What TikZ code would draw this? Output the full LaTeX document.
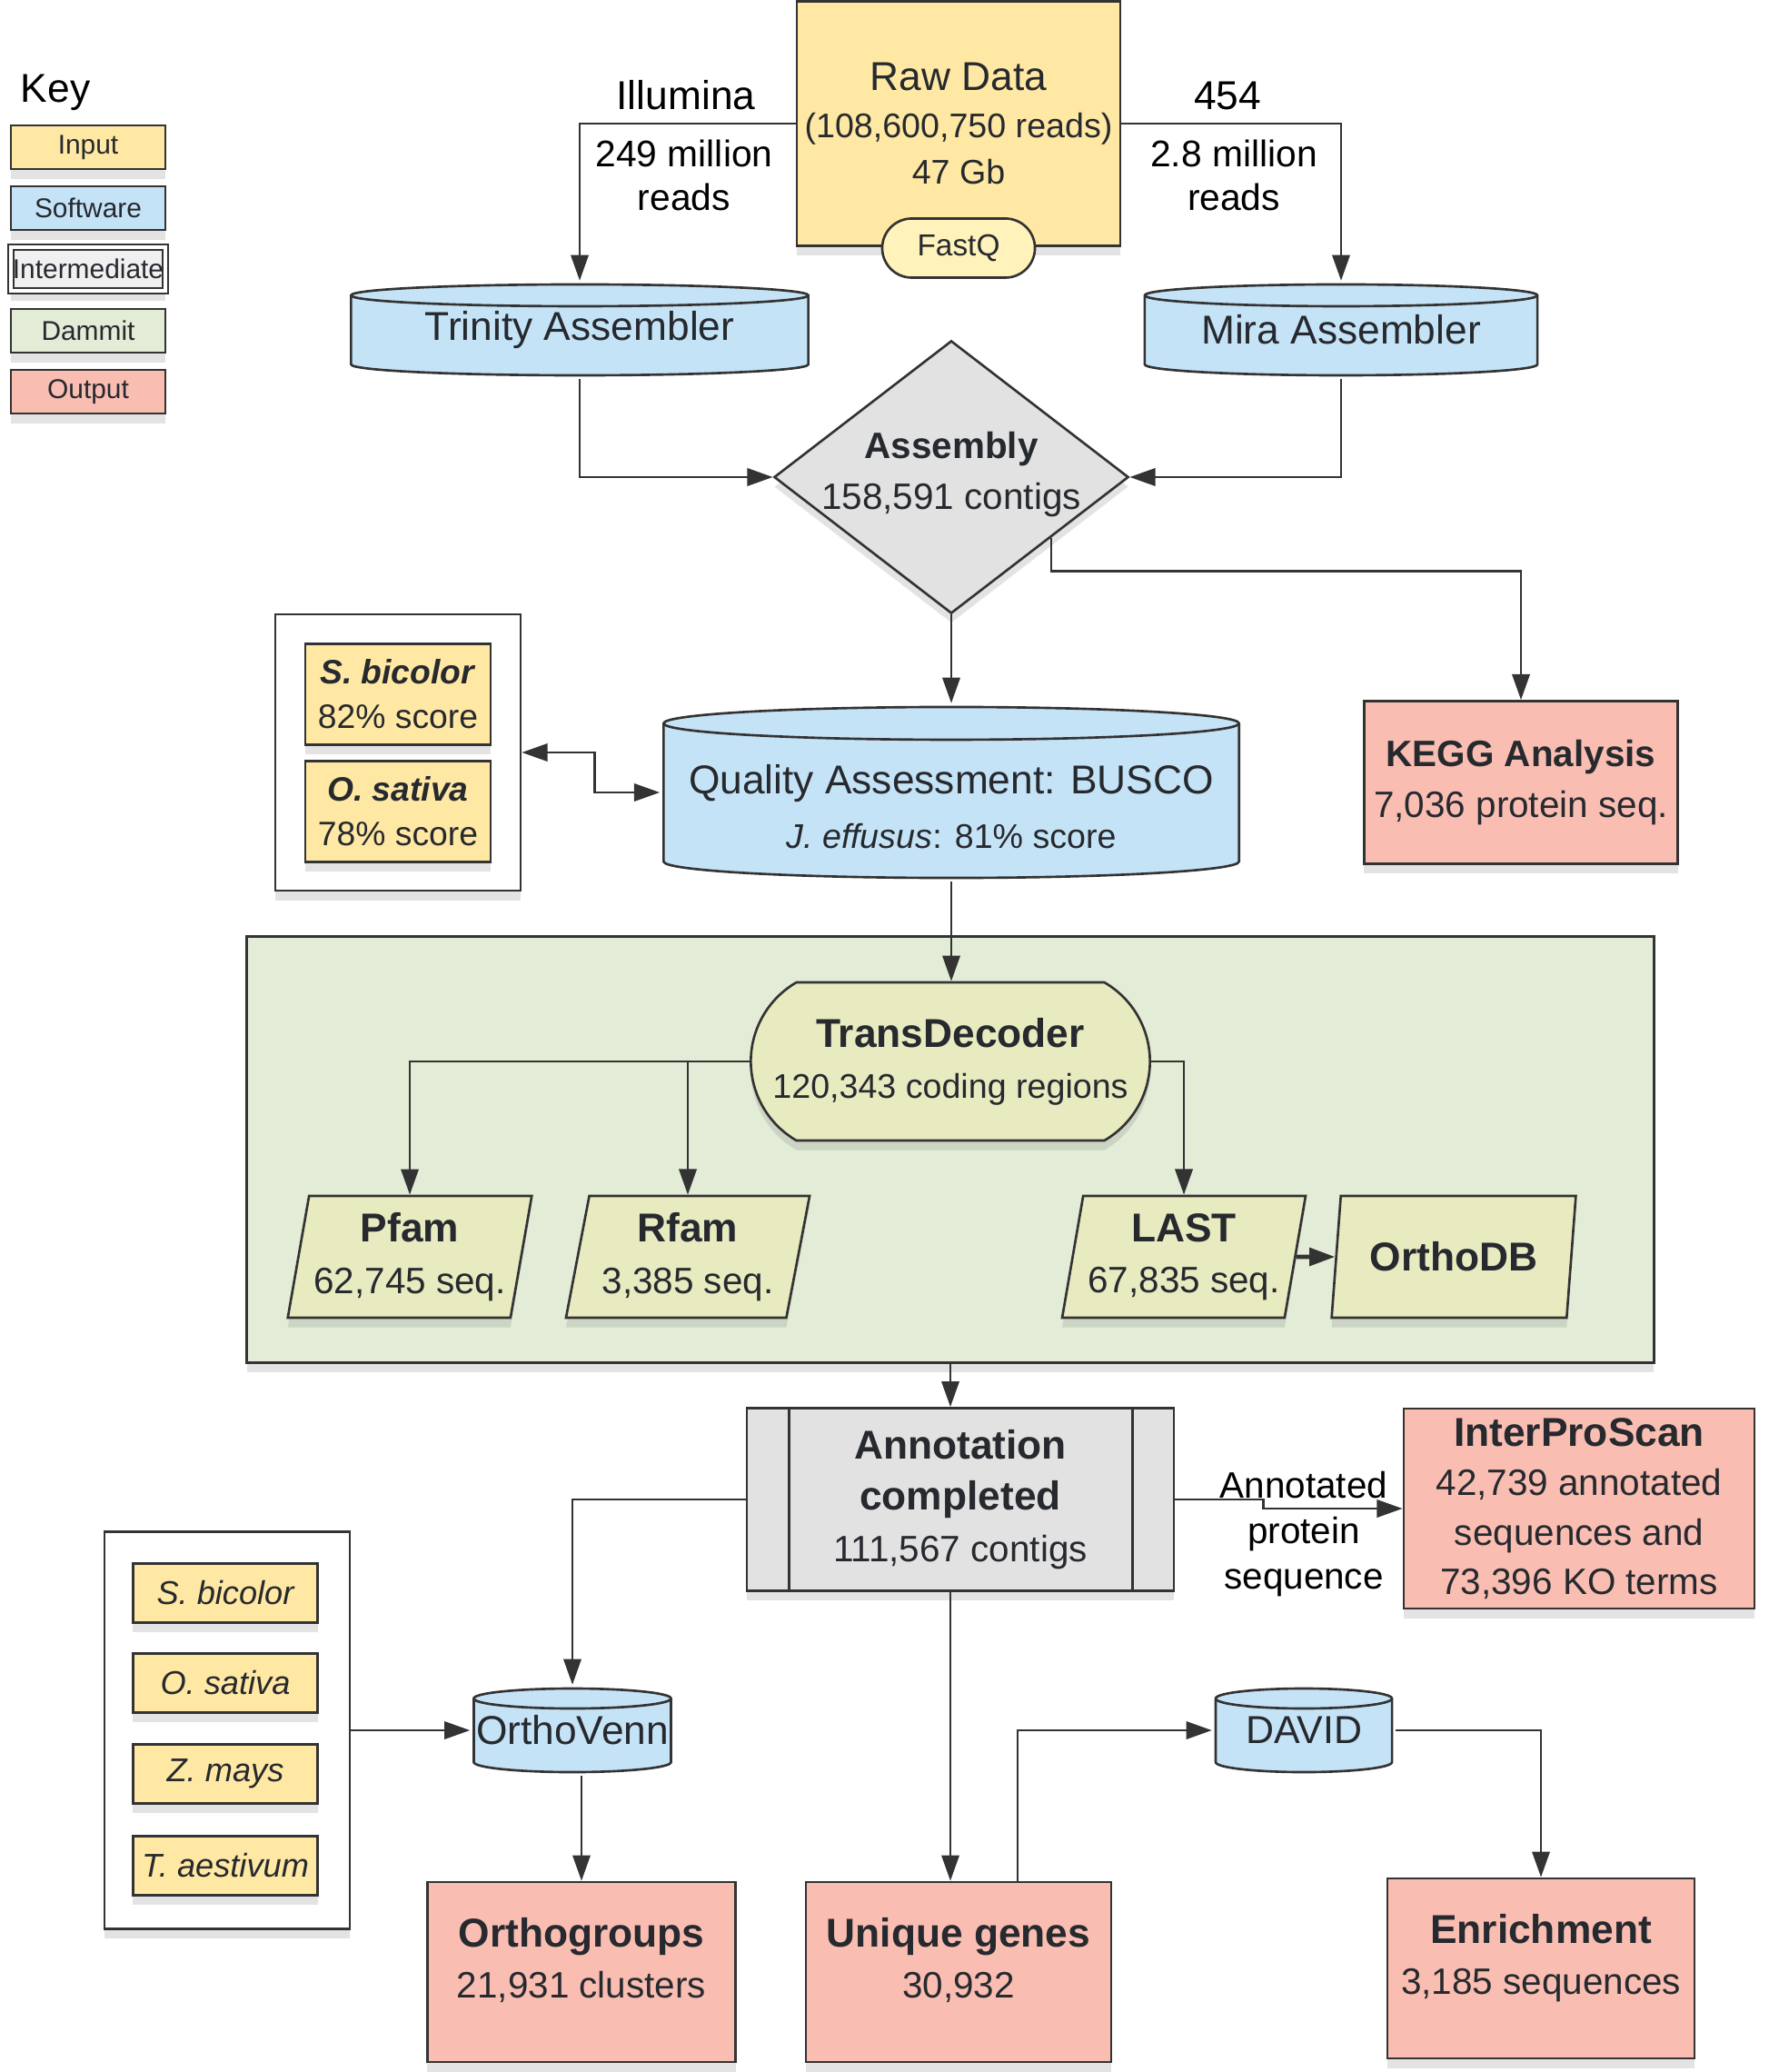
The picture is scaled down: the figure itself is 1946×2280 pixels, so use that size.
\documentclass[tikz,border=0pt]{standalone}
\usepackage{fontspec}
\setmainfont{Liberation Sans}
\usetikzlibrary{arrows.meta,shapes.geometric,shapes.misc,shadows,calc}

\definecolor{inputc}{RGB}{255,232,163}
\definecolor{softc}{RGB}{197,227,246}
\definecolor{interc}{RGB}{226,226,226}
\definecolor{dammitc}{RGB}{226,236,214}
\definecolor{outc}{RGB}{249,189,178}
\definecolor{tdc}{RGB}{232,234,192}
\definecolor{fastqc}{RGB}{255,242,186}
\definecolor{linec}{RGB}{51,51,51}
\definecolor{txtc}{RGB}{38,41,46}

\newcommand{\dtl}{\fontsize{11.5}{16}\selectfont}
\newcommand{\dts}{\fontsize{10.7}{16}\selectfont}

\begin{document}
\begin{tikzpicture}[x=0.01cm, y=-0.01cm,
	every node/.style={font=\fontsize{12.6}{16}\selectfont, text=txtc, align=center, inner sep=0pt},
	>={Triangle[length=8pt, width=5.5pt]},
	box/.style={draw=linec, line width=0.75pt},
	shd/.style={drop shadow={shadow xshift=0pt, shadow yshift=-3pt, opacity=0.22}},
	inbox/.style={box, shd, fill=inputc},
	outbox/.style={box, shd, fill=outc},
	keybox/.style={box, shd, minimum width=1.7cm, minimum height=0.48cm, font=\fontsize{8.5}{10}\selectfont},
	para/.style={trapezium, trapezium left angle=77, trapezium right angle=103, trapezium stretches=true, box, shd, fill=tdc, minimum width=2.69cm, minimum height=1.34cm},
	cyl/.style={path picture={
		\path[fill=softc, draw=linec, line width=0.75pt]
			let \p1=(path picture bounding box.south west), \p2=(path picture bounding box.north east),
			\n1={(\x2-\x1)/2-1pt}, \n2={#1} in
			(\x1+1pt,\y2-\n2-1pt) -- (\x1+1pt,\y1+\n2+1pt)
			arc[start angle=180, end angle=360, x radius=\n1, y radius=\n2]
			-- (\x2-1pt,\y2-\n2-1pt)
			arc[start angle=0, end angle=180, x radius=\n1, y radius=\n2] -- cycle;
		\draw[linec, line width=0.75pt]
			let \p1=(path picture bounding box.south west), \p2=(path picture bounding box.north east),
			\n1={(\x2-\x1)/2-1pt}, \n2={#1} in
			(\x1+1pt,\y2-\n2-1pt) arc[start angle=180, end angle=360, x radius=\n1, y radius=\n2];
	}},
	arr/.style={->, draw=linec, line width=0.7pt}]
	\useasboundingbox (0,0) rectangle (1946,2280);

	% key
	\node[text=black] (keyttl) at (61,102) {Key};
	\node[keybox, fill=inputc] (kin) at (97,162) {Input};
	\node[keybox, fill=softc] (ksw) at (97,229) {Software};
	\node[keybox, fill=interc!50, line width=0.5pt, double=white, double distance=1.2pt] (kim) at (97,296) {Intermediate};
	\node[keybox, fill=dammitc] (kdm) at (97,364) {Dammit};
	\node[keybox, fill=outc] (kout) at (97,431) {Output};

	% raw data and assemblers
	\node[inbox, minimum width=3.56cm, minimum height=2.69cm, font=\fontsize{12.6}{14.6}\selectfont] (raw) at (1055,136) {Raw Data\\{\dts(108,600,750 reads)}\\{\dts 47 Gb}};
	\node[rounded rectangle, box, fill=fastqc, minimum width=1.68cm, minimum height=0.65cm, font=\fontsize{9.5}{11}\selectfont] (fastq) at (1055,273) {FastQ};
	\node[cyl=0.12cm, minimum width=5.1cm, minimum height=1.07cm] (trin) at (638,363) {Trinity Assembler};
	\node[cyl=0.12cm, minimum width=4.39cm, minimum height=1.07cm] (mira) at (1476,363) {Mira Assembler};
	\node[text=black] (illu) at (755,105) {Illumina};
	\node[text=black, font=\fontsize{11.6}{13.8}\selectfont] (illun) at (753,193) {249 million\\reads};
	\node[text=black] (roche) at (1351,105) {454};
	\node[text=black, font=\fontsize{11.6}{13.8}\selectfont] (rochen) at (1358,193) {2.8 million\\reads};
	\draw[arr] (raw.west) -| (trin.north);
	\draw[arr] (raw.east) -| (mira.north);

	% assembly
	\node[diamond, box, shd, fill=interc, minimum width=3.9cm, minimum height=3cm] (asm) at (1047,525) {};
	\node[font=\dtl] (asmtxt) at (1047,522) {\textbf{Assembly}\\158,591 contigs};
	\draw[arr] (trin.south) |- (asm.west);
	\draw[arr] (mira.south) |- (asm.east);
	\node[outbox, minimum width=3.45cm, minimum height=1.79cm, font=\dtl] (kegg) at (1674,861) {\textbf{KEGG Analysis}\\7,036 protein seq.};
	\coordinate (kstart) at ($(asm.east)!0.44!(asm.south)$);
	\draw[arr] (kstart) -- ++(0,37) -| (kegg.north);

	% busco
	\node[cyl=0.18cm, minimum width=6.4cm, minimum height=1.95cm] (busco) at (1047,872) {};
	\node (buscotxt) at (1047,888) {Quality Assessment: BUSCO\\[1pt]{\dts\itshape J. effusus}{\dts: 81\% score}};
	\draw[arr] (asm.south) -- (asm.south |- busco.north);
	\node[box, shd, fill=white, minimum width=2.7cm, minimum height=3.04cm] (bref) at (438,828) {};
	\node[inbox, minimum width=2.04cm, minimum height=1.11cm, font=\fontsize{10.6}{14}\selectfont] (bsb) at (438,764) {\textbf{\textit{S. bicolor}}\\82\% score};
	\node[inbox, minimum width=2.04cm, minimum height=1.11cm, font=\fontsize{10.6}{14}\selectfont] (bos) at (438,893) {\textbf{\textit{O. sativa}}\\78\% score};
	\draw[<->, draw=linec, line width=0.7pt] (bref.east) -- ++(80,0) |- (busco.west);

	% dammit
	\node[box, shd, fill=dammitc, minimum width=15.48cm, minimum height=4.69cm] (dammit) at (1046,1265) {};
	\node[rounded rectangle, rounded rectangle arc length=120, box, shd, fill=tdc, minimum width=4.39cm, minimum height=1.74cm] (td) at (1046,1168) {\textbf{TransDecoder}\\{\dts 120,343 coding regions}};
	\draw[arr] (busco.south) -- (busco.south |- td.north);
	\node[para] (pfam) at (451,1383) {\textbf{Pfam}\\{\dtl 62,745 seq.}};
	\node[para] (rfam) at (757,1383) {\textbf{Rfam}\\{\dtl 3,385 seq.}};
	\node[para] (last) at (1303,1383) {\textbf{LAST}\\{\dtl 67,835 seq.}};
	\node[para] (odb) at (1600,1383) {\textbf{OrthoDB}};
	\draw[arr] (td.west) -| (pfam.north);
	\draw[arr] (td.west -| rfam.north) -- (rfam.north);
	\draw[arr] (td.east) -| (last.north);
	\draw[arr, line width=1.3pt] (last.east) -- (odb.west);

	% annotation
	\node[box, shd, fill=interc, minimum width=4.7cm, minimum height=2.01cm] (annot) at (1057,1650) {\textbf{Annotation}\\\textbf{completed}\\{\dtl 111,567 contigs}};
	\draw[linec, line width=0.75pt] ([xshift=0.48cm]annot.north west) -- ([xshift=0.48cm]annot.south west);
	\draw[linec, line width=0.75pt] ([xshift=-0.47cm]annot.north east) -- ([xshift=-0.47cm]annot.south east);
	\draw[arr] (dammit.south) -- (dammit.south |- annot.north);
	\node[outbox, minimum width=3.86cm, minimum height=2.2cm, font=\fontsize{12.6}{15.5}\selectfont] (ips) at (1738,1660) {\textbf{InterProScan}\\{\dtl 42,739 annotated}\\{\dtl sequences and}\\{\dtl 73,396 KO terms}};
	\node[text=black, font=\fontsize{11.5}{14.2}\selectfont] (annlbl) at (1435,1688) {Annotated\\protein\\sequence};
	\draw[arr] (annot.east) -- ++(97,0) |- (ips.west);

	% comparison
	\node[box, shd, fill=white, minimum width=2.7cm, minimum height=4.37cm] (spec) at (250,1904) {};
	\node[inbox, minimum width=2.03cm, minimum height=0.65cm, font=\fontsize{10.3}{13}\selectfont\itshape] (ssb) at (248,1753) {S. bicolor};
	\node[inbox, minimum width=2.03cm, minimum height=0.65cm, font=\fontsize{10.3}{13}\selectfont\itshape] (sos) at (248,1852) {O. sativa};
	\node[inbox, minimum width=2.03cm, minimum height=0.65cm, font=\fontsize{10.3}{13}\selectfont\itshape] (szm) at (248,1952) {Z. mays};
	\node[inbox, minimum width=2.03cm, minimum height=0.65cm, font=\fontsize{10.3}{13}\selectfont\itshape] (sta) at (248,2053) {T. aestivum};
	\node[cyl=0.11cm, minimum width=2.24cm, minimum height=0.99cm] (ov) at (630,1904) {OrthoVenn};
	\draw[arr] (spec.east) -- (ov.west);
	\draw[arr] (annot.west) -| (ov.north);
	\node[outbox, minimum width=3.39cm, minimum height=1.98cm, text depth=9pt] (ortho) at (640,2170) {\textbf{Orthogroups}\\{\dtl 21,931 clusters}};
	\draw[arr] (ortho.north |- ov.south) -- (ortho.north);

	% outputs
	\node[outbox, minimum width=3.36cm, minimum height=1.98cm, text depth=9pt] (uniq) at (1055,2170) {\textbf{Unique genes}\\{\dtl 30,932}};
	\draw[arr] (dammit.south |- annot.south) -- (dammit.south |- uniq.north);
	\node[cyl=0.11cm, minimum width=2.01cm, minimum height=0.99cm, font=\fontsize{12.2}{15}\selectfont] (david) at (1435,1904) {DAVID};
	\draw[arr] ([xshift=0.65cm]uniq.north) |- (david.west);
	\node[outbox, minimum width=3.38cm, minimum height=1.98cm, text depth=9pt] (enr) at (1696,2166) {\textbf{Enrichment}\\{\dtl 3,185 sequences}};
	\draw[arr] (david.east) -| (enr.north);
\end{tikzpicture}
\end{document}
